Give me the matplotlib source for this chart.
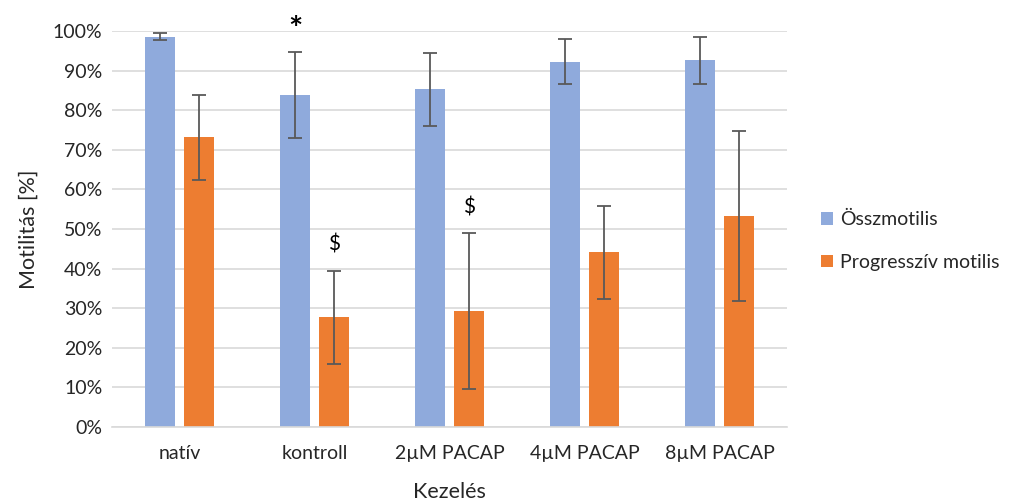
import matplotlib
matplotlib.use("Agg")
import matplotlib.pyplot as plt
import numpy as np
from matplotlib.ticker import PercentFormatter

categories = ["natív", "kontroll", "2µM PACAP", "4µM PACAP", "8µM PACAP"]
series_names = ["Összmotilis", "Progresszív motilis"]
ossz = [98.6, 83.9, 85.3, 92.2, 92.6]
ossz_err = [0.9, 10.8, 9.2, 5.7, 5.9]
prog = [73.2, 27.7, 29.4, 44.1, 53.3]
prog_err = [10.7, 11.7, 19.7, 11.8, 21.5]
yticks = list(range(0, 101, 10))

plt.rcParams['font.family'] = ['Lato', 'DejaVu Sans']

fig = plt.figure(figsize=(10.12, 5.0), dpi=100)
ax = fig.add_axes([0.1107, 0.146, 0.667, 0.792])

x = np.arange(len(categories))
w = 0.222
off = 0.145
blue = "#8faadc"
orange = "#ed7d31"
ekw = dict(ecolor="#595959", elinewidth=1.3, capsize=5, capthick=1.3)
ax.bar(x - off, ossz, w, color=blue, yerr=ossz_err, error_kw=ekw, label=series_names[0], zorder=2)
ax.bar(x + off, prog, w, color=orange, yerr=prog_err, error_kw=ekw, label=series_names[1], zorder=2)

ax.set_xlim(-0.5, len(categories) - 0.5)
ax.set_ylim(0, 100)
ax.set_yticks(yticks)
ax.yaxis.set_major_formatter(PercentFormatter(decimals=0))
ax.set_xticks(x)
ax.set_xticklabels(categories)
ax.grid(axis="y", color="#d9d9d9", linewidth=1.2, zorder=0)
ax.set_axisbelow(True)
for s in ["top", "right", "left"]:
    ax.spines[s].set_visible(False)
ax.spines["bottom"].set_color("#d9d9d9")
ax.spines["bottom"].set_linewidth(1.2)
ax.tick_params(axis="both", length=0, labelsize=14, colors="#262626")
ax.tick_params(axis="x", pad=13)
ax.tick_params(axis="y", pad=7)

ax.set_ylabel("Motilitás [%]", fontsize=15.5, color="#262626", labelpad=10)
ax.set_xlabel("Kezelés", fontsize=15.5, color="#262626", labelpad=14)

# significance marks
ax.text(x[1] - off, ossz[1] + ossz_err[1] + 5.5, "*", ha="center", va="center", fontsize=24,
        fontweight="bold", color="black", clip_on=False)
ax.text(x[1] + off, prog[1] + prog_err[1] + 6.6, "$", ha="center", va="center", fontsize=15, color="black")
ax.text(x[2] + off, prog[2] + prog_err[2] + 6.3, "$", ha="center", va="center", fontsize=15, color="black")

leg = ax.legend(loc="center left", bbox_to_anchor=(1.025, 0.47), frameon=False,
                fontsize=14, handlelength=0.6, handleheight=0.6, handletextpad=0.35,
                labelspacing=1.3)
for t in leg.get_texts():
    t.set_color("#262626")

fig.savefig("out.png", dpi=100)
